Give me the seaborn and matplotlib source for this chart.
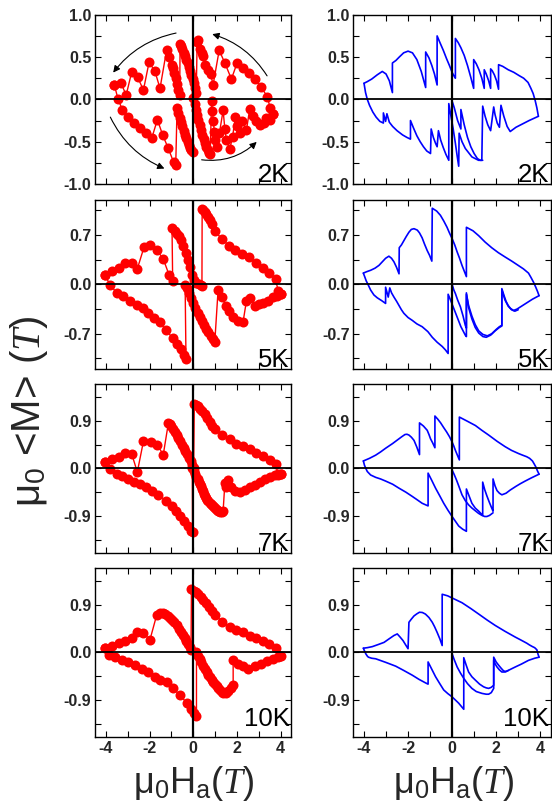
import matplotlib
matplotlib.use("Agg")
import matplotlib.pyplot as plt
import seaborn as sns
from matplotlib.patches import FancyArrowPatch
from matplotlib.ticker import FixedLocator, MultipleLocator

# ---------------- data (field H in T, magnetisation M in T) ----------------
# 2K experiment (red)
H2r_low = [-3.61,-3.45,-3.25,-2.97,-2.70,-2.42,-2.16,-1.90,-1.64,-1.40,-1.14,-0.90,-0.80,
           -0.74,-0.68,-0.62,-0.56,-0.50,-0.44,-0.38,-0.32,-0.26,-0.20,-0.14,-0.08,-0.02,
           0.00,0.06,0.12,0.18,0.24,0.30,0.36,0.42,0.48,0.54,0.60,0.66,0.72,0.78,
           0.84,0.88,0.92,0.97,1.02,1.08,1.20,1.37,1.45,1.52,1.67,1.80,1.93,2.00,2.13,2.25,
           2.44,2.59,2.74,2.89,3.04,3.23,3.35,3.50,3.65]
M2r_low = [0.17,0.01,-0.12,-0.21,-0.28,-0.34,-0.40,-0.46,-0.24,-0.42,-0.58,-0.74,-0.78,
           -0.10,-0.16,-0.22,-0.27,-0.32,-0.37,-0.42,-0.46,-0.50,-0.54,-0.57,-0.60,-0.62,
           0.02,-0.06,-0.12,-0.18,-0.24,-0.30,-0.36,-0.42,-0.47,-0.52,-0.56,-0.60,-0.63,-0.65,
           -0.02,-0.14,-0.26,-0.38,-0.48,-0.56,-0.40,-0.13,-0.35,-0.48,-0.59,-0.45,-0.21,-0.32,-0.40,-0.26,
           -0.36,-0.11,-0.20,-0.25,-0.30,-0.28,-0.22,-0.24,-0.17]
H2r_up = [3.65,3.52,3.40,3.10,2.82,2.54,2.28,2.01,1.75,1.45,1.19,0.91,0.80,0.70,0.56,0.46,
          0.39,0.30,0.23,0.18,0.14,0.10,0.04,-0.02,-0.08,-0.14,-0.20,-0.26,-0.32,-0.38,-0.44,
          -0.50,-0.56,-0.60,-0.62,-0.68,-0.74,-0.80,-0.86,-0.92,-0.98,-1.10,-1.22,-1.52,-1.75,
          -2.02,-2.28,-2.54,-2.82,-3.07,-3.30,-3.61]
M2r_up = [-0.17,-0.10,0.03,0.15,0.24,0.31,0.37,0.43,0.24,0.43,0.58,0.17,0.30,0.35,0.41,0.51,
          0.55,0.60,0.70,0.68,0.08,0.13,0.19,0.24,0.29,0.34,0.38,0.43,0.47,0.51,0.55,
          0.59,0.63,0.65,0.05,0.11,0.18,0.25,0.31,0.37,0.41,0.50,0.58,0.13,0.33,
          0.44,0.11,0.26,0.32,0.05,0.19,0.17]

# 2K simulation (blue)
H2b_up = [3.92,3.85,3.77,3.68,3.58,3.45,3.25,3.05,2.80,2.55,2.30,2.11,
          2.11,2.02,1.92,1.82,1.75, 1.75,1.66,1.55,1.46, 1.46,1.35,1.22,1.10,0.98,
          0.98,0.85,0.70,0.55,0.40,0.28,0.15, 0.15,0.08,0.00,-0.12,-0.25,-0.40,-0.55,-0.68,
          -0.68,-0.80,-0.92,-1.05,-1.20, -1.20,-1.40,-1.60,-1.80,-2.00,-2.20,-2.40,-2.55,-2.71,
          -2.71,-2.85,-3.00,-3.17,-3.40,-3.65,-3.85,-4.00]
M2b_up = [-0.20,-0.10,-0.01,0.07,0.13,0.20,0.25,0.28,0.32,0.35,0.39,0.41,
          0.12,0.22,0.29,0.34,0.36, 0.13,0.22,0.30,0.35, 0.13,0.25,0.35,0.42,0.47,
          0.13,0.26,0.40,0.52,0.61,0.67,0.72, 0.25,0.28,0.32,0.40,0.48,0.58,0.67,0.75,
          0.17,0.30,0.40,0.49,0.56, 0.14,0.33,0.47,0.55,0.57,0.55,0.50,0.46,0.43,
          0.08,0.22,0.30,0.33,0.29,0.24,0.21,0.19]
H2b_low = [-4.00,-3.93,-3.85,-3.75,-3.60,-3.45,-3.28,-3.12,-3.12,-3.02,-2.96,-2.85,-2.70,
           -2.50,-2.25,-2.05,-1.89,-1.89,-1.75,-1.60,-1.45,-1.30,-1.15,-0.98,
           -0.95,-0.85,-0.75,-0.68,-0.62,-0.52,-0.40,-0.28,-0.15,-0.15,-0.05,0.05,0.15,0.22,0.30,
           0.32,0.45,0.60,0.75,0.90,1.05,1.20,1.35,1.39,1.50,1.62,1.75,1.89,1.95,2.05,2.15,
           2.22,2.35,2.50,2.64,2.90,3.20,3.50,3.92]
M2b_low = [0.19,0.08,0.00,-0.07,-0.15,-0.21,-0.26,-0.28,-0.16,-0.26,-0.17,-0.27,-0.32,
           -0.37,-0.42,-0.45,-0.47,-0.25,-0.34,-0.43,-0.50,-0.56,-0.61,-0.64,
           -0.35,-0.45,-0.52,-0.56,-0.37,-0.48,-0.57,-0.65,-0.72,-0.05,-0.20,-0.35,-0.52,-0.65,-0.79,
           -0.40,-0.50,-0.58,-0.63,-0.68,-0.70,-0.72,-0.72,-0.08,-0.20,-0.30,-0.37,-0.09,-0.18,-0.28,-0.33,
           -0.07,-0.20,-0.32,-0.38,-0.33,-0.29,-0.25,-0.20]
H2b_b = [0.00,0.10,0.25,0.40,0.40,0.55,0.70,0.85,1.00,1.15,1.28,1.39]
M2b_b = [-0.02,-0.10,-0.25,-0.35,-0.12,-0.30,-0.45,-0.56,-0.64,-0.70,-0.72,-0.72]

# 5K experiment (red)
H5r_up = [4.03,3.90,3.77,3.47,3.20,2.89,2.54,2.24,1.93,1.64,1.32,0.99,0.84,0.76,0.68,0.60,0.53,0.46,0.41,
          0.40,0.35,0.25,0.15,0.05,-0.05,-0.15,-0.25,-0.35,-0.45,-0.55,-0.65,-0.75,-0.85,-0.97,
          -0.94,-1.10,-1.37,-1.67,-1.98,-2.25,-2.56,-2.82,-3.12,-3.42,-3.73,-4.06]
M5r_up = [-0.14,-0.10,0.07,0.16,0.23,0.31,0.39,0.43,0.49,0.55,0.64,0.76,0.86,0.91,0.96,1.00,1.03,1.06,1.07,
          -0.02,-0.01,0.00,0.02,0.06,0.14,0.25,0.35,0.45,0.55,0.63,0.68,0.72,0.76,0.80,
          0.05,0.13,0.36,0.49,0.56,0.53,0.22,0.31,0.30,0.23,0.19,0.14]
H5r_low = [-4.06,-3.80,-3.50,-3.20,-2.89,-2.59,-2.28,-2.05,-1.80,-1.52,-1.25,-0.94,-0.76,-0.58,-0.43,-0.33,
           -0.37,-0.30,-0.20,-0.10,0.00,0.10,0.20,0.30,0.40,0.50,0.60,0.70,0.80,0.90,0.99,
           1.14,1.32,1.48,1.63,1.83,2.05,2.28,2.44,2.62,2.82,3.00,3.20,3.42,3.65,3.85,4.03]
M5r_low = [0.14,-0.01,-0.12,-0.17,-0.23,-0.29,-0.34,-0.41,-0.47,-0.54,-0.65,-0.76,-0.84,-0.92,-1.00,-1.06,
           -0.01,-0.05,-0.12,-0.19,-0.26,-0.33,-0.40,-0.46,-0.52,-0.58,-0.63,-0.68,-0.73,-0.78,-0.81,
           -0.08,-0.18,-0.30,-0.38,-0.46,-0.52,-0.54,-0.23,-0.19,-0.30,-0.28,-0.26,-0.23,-0.18,-0.16,-0.14]

# 5K simulation (blue)
H5b_up = [3.95,3.88,3.80,3.70,3.58,3.47,3.24,3.00,2.71,2.40,2.10,1.80,1.50,1.21,0.95,0.65,
          0.65,0.55,0.45,0.34,0.23,0.12,0.00,-0.12,-0.23,-0.38,-0.53,-0.70,-0.90,
          -0.92,-1.02,-1.13,-1.25,-1.36,-1.48,-1.58,-1.73,-1.85,-1.96,-2.08,-2.19,-2.30,-2.40,
          -2.41,-2.52,-2.64,-2.75,-2.87,-3.02,-3.17,-3.32,-3.50,-3.70,-3.88,-4.03]
M5b_up = [-0.16,-0.10,-0.04,0.03,0.10,0.16,0.22,0.27,0.33,0.39,0.45,0.52,0.60,0.69,0.76,0.81,
          0.11,0.19,0.27,0.37,0.46,0.56,0.65,0.73,0.81,0.90,0.98,1.04,1.08,
          0.33,0.41,0.48,0.57,0.66,0.73,0.77,0.79,0.78,0.74,0.68,0.62,0.56,0.52,
          0.15,0.24,0.32,0.37,0.40,0.37,0.32,0.27,0.23,0.20,0.18,0.16]
H5b_low = [-4.03,-3.97,-3.90,-3.82,-3.70,-3.55,-3.40,-3.20,-3.02,-3.02,-2.90,-2.83,-2.75,-2.64,-2.52,
           -2.41,-2.30,-2.19,-2.00,-1.81,-1.60,-1.36,-1.10,-0.90,-0.68,-0.45,-0.30,-0.18,
           -0.18,-0.10,0.00,0.10,0.20,0.30,0.40,0.50,0.60,0.65,
           0.65,0.75,0.90,1.05,1.21,1.40,1.60,1.80,2.00,2.15,2.26,
           2.26,2.35,2.45,2.55,2.65,2.79,2.95,3.15,3.40,3.65,3.95]
M5b_low = [0.16,0.11,0.05,0.00,-0.08,-0.15,-0.19,-0.23,-0.27,-0.04,-0.18,-0.05,-0.12,-0.18,-0.24,
           -0.30,-0.36,-0.41,-0.47,-0.51,-0.56,-0.60,-0.67,-0.75,-0.82,-0.88,-0.93,-0.98,
           -0.14,-0.20,-0.28,-0.36,-0.44,-0.52,-0.60,-0.66,-0.72,-0.74,
           -0.14,-0.30,-0.45,-0.57,-0.66,-0.71,-0.73,-0.70,-0.64,-0.60,-0.58,
           -0.06,-0.15,-0.24,-0.30,-0.34,-0.37,-0.35,-0.31,-0.26,-0.21,-0.16]
H5b_b = [0.00,0.08,0.15,0.25,0.38,0.50,0.60,0.65,0.65,0.75,0.90,1.05,1.21,1.40,1.55,1.75,1.95,2.15,2.26,
         2.26,2.40,2.55,2.70,2.85,3.00]
M5b_b = [0.00,-0.08,-0.13,-0.22,-0.32,-0.45,-0.58,-0.62,-0.12,-0.33,-0.49,-0.61,-0.69,-0.74,-0.75,-0.72,-0.66,-0.61,-0.59,
         -0.08,-0.22,-0.31,-0.36,-0.38,-0.36]

# 7K experiment (red)
H7r_up = [4.03,3.90,3.77,3.50,3.20,2.89,2.59,2.28,1.98,1.67,1.34,0.99,0.88,0.76,0.65,0.53,0.42,0.30,0.20,0.11,0.05,
          0.02,-0.05,-0.12,-0.20,-0.28,-0.36,-0.44,-0.52,-0.60,-0.68,-0.76,-0.84,-0.92,-1.00,-1.07,-1.14,
          -1.37,-1.64,-1.95,-2.28,-2.56,-2.82,-3.12,-3.42,-3.73,-4.03]
M7r_up = [-0.11,-0.12,0.075,0.16,0.23,0.30,0.36,0.42,0.47,0.56,0.63,0.75,0.81,0.88,0.95,1.03,1.08,1.13,1.17,1.20,1.22,
          0.00,0.06,0.13,0.20,0.27,0.33,0.39,0.45,0.51,0.57,0.63,0.69,0.75,0.80,0.84,0.85,
          0.26,0.44,0.50,0.51,-0.07,0.28,0.30,0.22,0.18,0.125]
H7r_low = [-4.03,-3.80,-3.50,-3.24,-2.97,-2.71,-2.44,-2.18,-1.90,-1.60,-1.25,-0.99,-0.79,-0.61,-0.43,-0.23,-0.08,-0.03,
           -0.04,0.05,0.10,0.15,0.20,0.25,0.30,0.35,0.40,0.45,0.50,0.55,0.60,0.65,0.70,0.75,0.80,0.85,0.90,0.95,
           1.00,1.05,1.10,1.15,1.20,1.25,1.30,1.37,1.45,1.52,1.60,1.75,1.90,2.13,2.36,2.59,2.82,3.04,3.27,3.50,3.73,3.90,4.03]
M7r_low = [0.125,-0.02,-0.11,-0.14,-0.20,-0.25,-0.30,-0.36,-0.42,-0.50,-0.61,-0.72,-0.81,-0.91,-1.00,-1.09,-1.18,-1.20,
           0.00,-0.05,-0.10,-0.16,-0.21,-0.26,-0.30,-0.34,-0.39,-0.43,-0.48,-0.52,-0.56,-0.59,-0.62,-0.65,-0.67,-0.69,-0.71,-0.73,
           -0.75,-0.77,-0.79,-0.80,-0.81,-0.82,-0.82,-0.81,-0.28,-0.35,-0.22,-0.36,-0.42,-0.45,-0.41,-0.36,-0.31,-0.25,-0.21,-0.16,-0.13,-0.11,-0.11]

# 7K simulation (blue)
H7b_up = [3.95,3.88,3.80,3.72,3.65,3.52,3.39,3.20,3.02,2.70,2.41,2.05,1.66,1.35,1.06,0.70,0.33,
          0.33,0.24,0.15,0.08,0.00,-0.12,-0.25,-0.38,-0.52,-0.65,-0.78,
          -0.78,-0.88,-0.98,-1.05,-1.13,-1.30,-1.48,
          -1.48,-1.60,-1.73,-1.85,-1.96,-2.05,-2.14,-2.28,-2.41,-2.70,-3.02,-3.25,-3.47,-3.75,-4.03]
M7b_up = [-0.11,-0.05,0.03,0.09,0.14,0.19,0.22,0.25,0.28,0.34,0.41,0.51,0.63,0.72,0.81,0.89,0.97,
          0.16,0.25,0.34,0.42,0.50,0.60,0.69,0.77,0.86,0.93,0.99,
          0.39,0.48,0.56,0.64,0.72,0.80,0.86,
          0.26,0.40,0.53,0.59,0.63,0.645,0.64,0.60,0.56,0.47,0.38,0.31,0.25,0.19,0.14]
H7b_low = [-4.03,-3.98,-3.92,-3.85,-3.70,-3.47,-3.25,-3.02,-2.70,-2.41,-2.10,-1.81,-1.60,-1.36,-1.09,
           -1.09,-0.92,-0.75,-0.56,-0.38,-0.19,0.00,0.15,0.30,0.48,0.65,
           0.65,0.78,0.90,1.05,1.21,1.39, 1.39,1.48,1.58,1.70,1.80,1.86,
           1.86,1.95,2.04,2.15,2.26,2.45,2.64,2.90,3.10,3.32,3.60,3.95]
M7b_low = [0.14,0.06,0.00,-0.06,-0.125,-0.17,-0.20,-0.24,-0.30,-0.375,-0.45,-0.53,-0.59,-0.66,-0.71,
           -0.09,-0.23,-0.375,-0.52,-0.66,-0.79,-0.91,-1.00,-1.09,-1.15,-1.19,
           -0.39,-0.53,-0.66,-0.75,-0.81,-0.89, -0.26,-0.40,-0.52,-0.65,-0.75,-0.81,
           -0.20,-0.33,-0.42,-0.47,-0.50,-0.47,-0.41,-0.34,-0.29,-0.24,-0.18,-0.11]
H7b_b = [0.00,0.10,0.20,0.30,0.45,0.60,0.75,0.90,1.05,1.20,1.36,1.48,1.58,1.70,1.86]
M7b_b = [-0.03,-0.12,-0.22,-0.33,-0.50,-0.61,-0.69,-0.75,-0.80,-0.85,-0.89,-0.91,-0.91,-0.89,-0.84]

# 10K experiment (red)
H10r_up = [4.03,3.90,3.77,3.47,3.20,2.89,2.59,2.28,1.98,1.67,1.34,0.99,0.86,0.73,0.60,0.46,0.35,0.23,0.12,0.03,-0.08,
           -0.10,-0.15,-0.23,-0.31,-0.39,-0.46,-0.55,-0.65,-0.76,-0.86,-0.96,-1.07,-1.17,-1.27,-1.37,-1.52,-1.67,
           -1.98,-2.28,-2.56,-2.82,-3.12,-3.42,-3.73,-4.03]
M10r_up = [-0.075,-0.08,0.09,0.16,0.225,0.275,0.32,0.38,0.425,0.475,0.58,0.71,0.78,0.85,0.93,1.00,1.05,1.10,1.14,1.17,1.19,
           0.04,0.10,0.16,0.22,0.28,0.33,0.39,0.45,0.51,0.57,0.62,0.66,0.69,0.72,0.74,0.74,0.71,
           0.24,0.36,0.38,0.275,0.225,0.18,0.13,0.09]
H10r_low = [-4.03,-3.84,-3.58,-3.27,-2.97,-2.66,-2.36,-2.05,-1.75,-1.52,-1.22,-0.91,-0.61,-0.30,-0.08,0.05,0.15,
            0.15,0.22,0.30,0.38,0.46,0.54,0.61,0.69,0.76,0.84,0.91,0.99,1.07,1.15,1.22,1.30,1.37,1.48,1.60,1.72,1.83,
            1.83,2.05,2.28,2.51,2.82,3.12,3.38,3.65,3.96]
M10r_low = [0.09,-0.04,-0.09,-0.14,-0.18,-0.24,-0.31,-0.37,-0.46,-0.525,-0.56,-0.68,-0.81,-0.95,-1.075,-1.14,-1.20,
            0.00,-0.06,-0.13,-0.19,-0.25,-0.31,-0.37,-0.42,-0.47,-0.52,-0.56,-0.60,-0.64,-0.67,-0.71,-0.74,-0.76,-0.77,-0.725,-0.68,-0.62,
            -0.15,-0.21,-0.26,-0.31,-0.26,-0.21,-0.16,-0.12,-0.075]

# 10K simulation (blue)
H10b_up = [3.95,3.90,3.85,3.75,3.65,3.52,3.39,3.10,2.87,2.40,1.96,1.60,1.21,0.85,0.45,0.20,0.00,-0.20,-0.45,
           -0.45,-0.55,-0.68,-0.80,-0.90,-1.05,-1.21,-1.35,-1.48,-1.60,-1.73,-1.85,-1.96,
           -2.00,-2.12,-2.23,-2.36,-2.49,-2.64,-2.85,-3.09,-3.35,-3.62,-3.85,-4.03]
M10b_up = [-0.09,-0.03,0.05,0.09,0.11,0.14,0.175,0.24,0.29,0.40,0.51,0.61,0.725,0.83,0.94,0.99,1.03,1.07,1.10,
           0.13,0.25,0.38,0.49,0.57,0.66,0.725,0.755,0.76,0.73,0.69,0.63,0.57,
           0.07,0.15,0.225,0.29,0.35,0.32,0.26,0.19,0.15,0.11,0.09,0.08]
H10b_low = [-4.03,-3.98,-3.92,-3.85,-3.80,-3.65,-3.47,-3.00,-2.56,-2.20,-1.81,-1.50,-1.21,-1.09,
            -1.09,-0.92,-0.75,-0.56,-0.38,-0.19,0.00,0.15,0.30,0.42,0.53,
            0.53,0.64,0.75,0.90,1.06,1.25,1.43,1.55,1.66,1.78,1.89,
            1.89,1.96,2.04,2.15,2.26,2.41,2.60,2.87,3.15,3.47,3.75,3.95]
M10b_low = [0.08,0.03,-0.025,-0.07,-0.09,-0.11,-0.12,-0.19,-0.26,-0.34,-0.43,-0.51,-0.575,-0.60,
            -0.18,-0.32,-0.46,-0.59,-0.71,-0.78,-0.84,-0.90,-0.96,-1.02,-1.075,
            -0.10,-0.24,-0.37,-0.46,-0.525,-0.60,-0.65,-0.67,-0.68,-0.66,-0.62,
            -0.15,-0.22,-0.275,-0.33,-0.37,-0.37,-0.33,-0.275,-0.22,-0.15,-0.11,-0.09]
H10b_b = [0.00,0.10,0.23,0.38,0.53,0.70,0.90,1.10,1.36,1.55,1.66,1.78,1.89,1.89,2.00,2.11,2.23,2.34,2.45,2.56]
M10b_b = [-0.025,-0.14,-0.275,-0.39,-0.49,-0.59,-0.68,-0.74,-0.775,-0.79,-0.79,-0.76,-0.68,-0.09,-0.18,-0.24,-0.30,-0.35,-0.36,-0.34]

temps = ["2K", "5K", "7K", "10K"]
ylims = [1.0, 1.2, 1.6, 1.6]
ymajor = [[-1.0, -0.5, 0.0, 0.5, 1.0], [-0.7, 0.0, 0.7], [-0.9, 0.0, 0.9], [-0.9, 0.0, 0.9]]
yminor = [[-0.75, -0.25, 0.25, 0.75], [-1.05, -0.35, 0.35, 1.05],
          [-1.35, -0.45, 0.45, 1.35], [-1.35, -0.45, 0.45, 1.35]]
xmajor = [-4, -2, 0, 2, 4]

red_sets = [[(H2r_low, M2r_low), (H2r_up, M2r_up)],
            [(H5r_up, M5r_up), (H5r_low, M5r_low)],
            [(H7r_up, M7r_up), (H7r_low, M7r_low)],
            [(H10r_up, M10r_up), (H10r_low, M10r_low)]]
blue_sets = [[(H2b_up, M2b_up), (H2b_low, M2b_low), (H2b_b, M2b_b)],
             [(H5b_up, M5b_up), (H5b_low, M5b_low), (H5b_b, M5b_b)],
             [(H7b_up, M7b_up), (H7b_low, M7b_low), (H7b_b, M7b_b)],
             [(H10b_up, M10b_up), (H10b_low, M10b_low), (H10b_b, M10b_b)]]

# ---------------- styling ----------------
sns.set_theme(style="ticks")
plt.rcParams["font.family"] = ["Liberation Sans", "DejaVu Sans"]
plt.rcParams["mathtext.fontset"] = "custom"
plt.rcParams["mathtext.rm"] = "Liberation Sans"
plt.rcParams["mathtext.it"] = "Liberation Serif:italic"
plt.rcParams["mathtext.bf"] = "Liberation Sans:bold"

fig = plt.figure(figsize=(5.52, 8.02), dpi=100)
bottoms = [0.7706, 0.5399, 0.3105, 0.081]
height = 0.211
lefts = [0.172, 0.6395]
widths = [0.356, 0.359]

for r in range(4):
    for c in range(2):
        ax = fig.add_axes([lefts[c], bottoms[r], widths[c], height])
        if c == 0:
            for H, M in red_sets[r]:
                sns.lineplot(x=H, y=M, sort=False, estimator=None, ax=ax, color="#ff0000",
                             lw=1.0, marker="o", markersize=7.2, markeredgewidth=0, zorder=2)
        else:
            for H, M in blue_sets[r]:
                sns.lineplot(x=H, y=M, sort=False, estimator=None, ax=ax, color="#0000ff",
                             lw=1.2, zorder=2)
        ax.axhline(0, color="black", lw=1.3, zorder=3)
        ax.axvline(0, color="black", lw=1.6, zorder=3)
        ax.set_xlim(-4.5, 4.5)
        ax.set_ylim(-ylims[r], ylims[r])
        ax.xaxis.set_major_locator(FixedLocator(xmajor))
        ax.xaxis.set_minor_locator(MultipleLocator(1.0))
        ax.yaxis.set_major_locator(FixedLocator(ymajor[r]))
        ax.yaxis.set_minor_locator(FixedLocator(yminor[r]))
        ax.set_yticklabels(["%.1f" % v for v in ymajor[r]])
        if r == 3:
            ax.set_xticklabels([str(v) for v in xmajor])
        else:
            ax.set_xticklabels([])
        ax.tick_params(which="both", direction="in", top=True, right=True, width=0.8,
                       color="black", labelsize=11.5, pad=2.5)
        ax.tick_params(which="major", length=4)
        ax.tick_params(which="minor", length=4)
        for lab in ax.get_xticklabels() + ax.get_yticklabels():
            lab.set_fontweight("bold")
        for sp in ax.spines.values():
            sp.set_linewidth(1.0)
            sp.set_color("black")
        ax.set_xlabel("")
        ax.set_ylabel("")
        ty = 0.065 if r == 3 else 0.01
        ax.text(0.99, ty, temps[r], transform=ax.transAxes, ha="right", va="baseline",
                fontsize=18.5, color="black")
        if r == 0 and c == 0:
            arrows = [((-0.66, 0.79), (-3.74, 0.29), 0.2),
                      ((3.45, 0.25), (0.75, 0.78), 0.2),
                      ((-3.85, -0.18), (-1.20, -0.83), 0.2),
                      ((0.26, -0.71), (3.00, -0.48), 0.25)]
            for p0, p1, rad in arrows:
                ax.add_patch(FancyArrowPatch(p0, p1, connectionstyle="arc3,rad=%s" % rad,
                                             arrowstyle="-|>", mutation_scale=10, lw=0.8,
                                             color="black", zorder=4))

fig.text(0.052, 0.487, r"μ$_0$ <M> ($\mathit{T}$)", rotation=90, ha="center", va="center",
         fontsize=29)
fig.text(0.35, 0.011, r"μ$_0$H$_\mathrm{a}$($\mathit{T}$)", ha="center", va="baseline", fontsize=26)
fig.text(0.821, 0.011, r"μ$_0$H$_\mathrm{a}$($\mathit{T}$)", ha="center", va="baseline", fontsize=26)

fig.savefig("out.png", dpi=100)
